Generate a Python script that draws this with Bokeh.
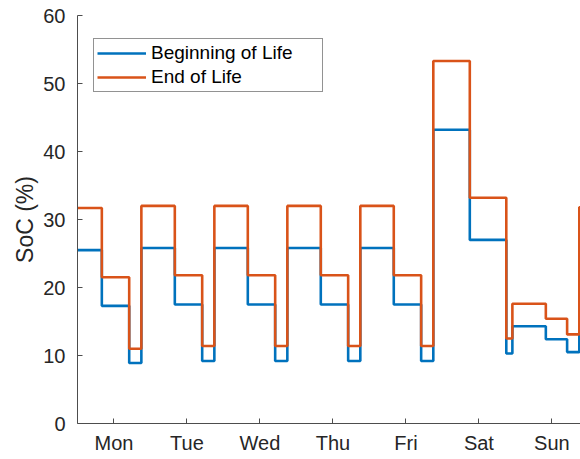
from bokeh.plotting import figure
from bokeh.models import FixedTicker, Range1d, Legend, LegendItem
from bokeh.embed import file_html
from bokeh.resources import INLINE

# step change times (hours from Monday 00:00)
hours = [0, 8, 17, 21, 32, 41, 45, 56, 65, 69, 80, 89, 93, 104, 113, 117,
         129, 141, 143, 154, 161, 165, 168]
bol = [25.5, 17.3, 8.9, 25.8, 17.5, 9.2, 25.8, 17.5, 9.2, 25.8, 17.5, 9.2,
       25.8, 17.5, 9.2, 43.2, 27.0, 10.3, 14.3, 12.4, 10.5, 25.5, 25.5]
eol = [31.7, 21.5, 11.0, 32.0, 21.8, 11.4, 32.0, 21.8, 11.4, 32.0, 21.8, 11.4,
       32.0, 21.8, 11.4, 53.3, 33.2, 12.5, 17.6, 15.4, 13.1, 31.8, 31.8]
day_ticks = [12, 36, 60, 84, 108, 132, 156]
day_labels = ["Mon", "Tue", "Wed", "Thu", "Fri", "Sat", "Sun"]
y_ticks = [0, 10, 20, 30, 40, 50, 60]

FONT = "Liberation Sans"
TXT = "#262626"
AX = "#4d4d4d"

p = figure(width=580, height=459, output_backend="svg", toolbar_location=None,
           x_range=Range1d(0, 165.4), y_range=Range1d(0, 60),
           min_border_left=77, min_border_right=0, min_border_top=15,
           min_border_bottom=36)
p.outline_line_color = None
p.grid.visible = False
p.background_fill_color = "white"

r1 = p.step(hours, bol, mode="after", line_color="#0072BD", line_width=2.6)
r2 = p.step(hours, eol, mode="after", line_color="#D95319", line_width=2.6)

p.xaxis.ticker = FixedTicker(ticks=day_ticks)
p.xaxis.major_label_overrides = {t: l for t, l in zip(day_ticks, day_labels)}
p.yaxis.ticker = FixedTicker(ticks=y_ticks)
p.xaxis.minor_tick_line_color = None
p.yaxis.minor_tick_line_color = None

for ax in (p.xaxis[0], p.yaxis[0]):
    ax.axis_line_color = AX
    ax.major_tick_line_color = AX
    ax.major_tick_in = 5
    ax.major_tick_out = 0
    ax.major_label_text_font = FONT
    ax.major_label_text_font_size = "20px"
    ax.major_label_text_color = TXT

p.xaxis.major_label_standoff = 8
p.yaxis.major_label_standoff = 12
p.yaxis.axis_label = "SoC (%)"
p.yaxis.axis_label_text_font = FONT
p.yaxis.axis_label_text_font_size = "23px"
p.yaxis.axis_label_text_font_style = "normal"
p.yaxis.axis_label_text_color = TXT
p.yaxis.axis_label_standoff = 2

legend = Legend(items=[LegendItem(label="Beginning of Life", renderers=[r1]),
                       LegendItem(label="End of Life", renderers=[r2])],
                location=(16, 331))
legend.label_text_font = FONT
legend.label_text_font_size = "19px"
legend.label_text_color = "black"
legend.border_line_color = TXT
legend.border_line_width = 1
legend.background_fill_color = "white"
legend.background_fill_alpha = 1
legend.padding = 3
legend.margin = 0
legend.spacing = 2
legend.label_height = 22
legend.glyph_height = 22
legend.glyph_width = 49
legend.label_standoff = 5
legend.label_width = 168
p.add_layout(legend, "center")

open("out.html", "w").write(file_html(p, INLINE))
